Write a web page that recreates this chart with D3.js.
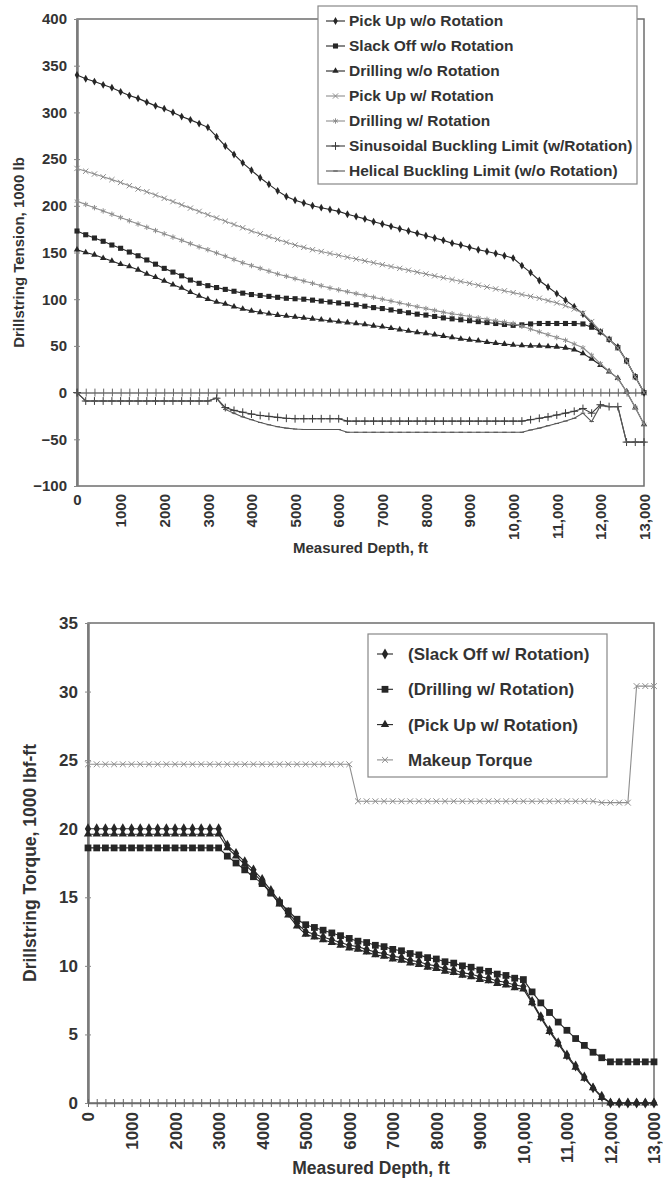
<!DOCTYPE html>
<html>
<head>
<meta charset="utf-8">
<script src="https://cdn.jsdelivr.net/npm/d3@7"></script>
<style>
  body { margin: 0; background: #fff; }
  svg { display: block; font-family: "Liberation Sans", Arial, sans-serif; font-weight: bold; }
  .tick text { fill: #333; }
</style>
</head>
<body>
<div id="chart"></div>
<script>
// measured depth of every data point, ft (category axis)
const depthFt = d3.range(0, 13001, 200);
const depthLabels = d3.range(0, 13001, 1000);

// ---- drillstring tension, 1000 lb ----
const pickUpNoRot = [340, 336, 333, 329.5, 326.5, 322, 318, 315, 311, 307, 304, 300, 295.5, 292, 288, 284,
  274, 264, 255, 246, 238, 230, 223, 216, 210, 206, 203, 200, 198, 196, 194,
  191, 188.5, 186, 183, 180.5, 178, 175.5, 173, 170.5, 168, 165.5, 163, 160, 158, 155.5, 153, 151, 149, 146.5, 144,
  136, 128.5, 120, 113, 106, 99, 92, 84, 74, 65, 57, 49, 34, 17, 0];
const slackOffNoRot = [173, 169, 165.5, 162, 158, 154.5, 150.5, 146.5, 142, 137.5, 133, 129, 125, 120.5, 117, 114.5,
  112.5, 110.5, 108.5, 106.5, 105, 104, 103, 102, 101, 100.5, 100, 99, 98, 97, 96,
  95, 94, 92.5, 91, 90, 88.5, 87, 85.5, 84, 83, 81.5, 80, 79, 78, 77, 76, 75, 74, 73, 72,
  72.5, 73.5, 74, 74, 74, 74, 74, 73.5, 70, 65, 57, 48, 34, 17, 0];
const drillingNoRot = [153, 150, 147.5, 144, 141, 137.5, 135, 131.5, 127, 123.5, 119.5, 115.5, 112, 107.5, 103.5, 100,
  97, 95, 92, 89.5, 87.5, 86, 84.5, 83, 82, 81, 80, 79, 78, 77, 76,
  75, 74, 73, 71.5, 70.5, 69, 67.5, 66, 64.5, 63.5, 62, 60.5, 59, 57.5, 56.5, 55.5, 54, 53, 52, 51,
  50.5, 50, 50, 49.5, 49, 48, 46, 42, 36, 29.5, 22.5, 15.5, 1, -16, -34];
const pickUpRot = [240, 237, 234, 231, 228, 225, 221.5, 218, 215, 211.5, 208, 204.5, 201, 197.5, 194, 190.5,
  187, 183.5, 180, 176.5, 173, 170, 167, 164, 161, 158, 155.5, 153, 151, 149, 147,
  145, 143, 141, 139, 137, 135, 133, 131, 129, 127, 125, 123, 121, 119, 117, 115, 113, 111, 109, 107,
  105, 103, 101, 98.5, 96, 93, 89.5, 85, 76, 66, 57, 48, 34, 17, 0];
const drillingRot = [205, 201.5, 198, 194.5, 191, 187.5, 184, 180.5, 177, 173.5, 170, 166.5, 163, 159.5, 156, 153,
  149.5, 146, 142.5, 139, 136, 133, 130, 127, 124.5, 122, 119.5, 117, 114.5, 112, 110,
  108, 106, 104, 102, 100, 98, 96, 94, 92, 90, 88, 86, 84.5, 83, 81.5, 80, 78.5, 77, 75.5, 74,
  71, 68, 65, 62, 59, 56, 52, 48, 40, 31, 23, 15, 1, -16, -34];
const sinusoidalLimit = [0, -9, -9, -9, -9, -9, -9, -9, -9, -9, -9, -9, -9, -9, -9, -9,
  -6, -16, -19, -21, -23, -24.5, -25.5, -26.5, -27.5, -28, -28, -28, -28, -28, -28,
  -30.5, -30.5, -30.5, -30.5, -30.5, -30.5, -30.5, -30.5, -30.5, -30.5, -30.5, -30.5, -30.5, -30.5, -30.5, -30.5, -30.5, -30.5, -30.5, -30.5,
  -30.5, -29, -27.5, -26, -24, -22, -20, -17, -22, -13, -15, -15, -53, -53, -53];
const helicalLimit = [0, -9, -9, -9, -9, -9, -9, -9, -9, -9, -9, -9, -9, -9, -9, -9,
  -6, -18, -22, -26, -29, -32, -34.5, -36.5, -38, -39, -39.5, -39.5, -39.5, -39.5, -39.5,
  -42.5, -42.5, -42.5, -42.5, -42.5, -42.5, -42.5, -42.5, -42.5, -42.5, -42.5, -42.5, -42.5, -42.5, -42.5, -42.5, -42.5, -42.5, -42.5, -42.5,
  -42.5, -40, -38, -35.5, -33, -30.5, -27.5, -22, -31, -14, -15, -15, -53, -53, -53];

// ---- drillstring torque, 1000 lbf-ft ----
const slackOffRotTq = [20, 20, 20, 20, 20, 20, 20, 20, 20, 20, 20, 20, 20, 20, 20, 20,
  18.8, 18.2, 17.6, 17.0, 16.3, 15.5, 14.7, 13.9, 13.1, 12.5, 12.3, 12.1, 11.9, 11.7, 11.5,
  11.4, 11.2, 11.0, 10.9, 10.7, 10.6, 10.4, 10.3, 10.1, 10.0, 9.8, 9.7, 9.5, 9.4, 9.2, 9.1, 8.9, 8.8, 8.6, 8.5,
  7.4, 6.3, 5.3, 4.4, 3.5, 2.7, 1.9, 1.1, 0.5, 0, 0, 0, 0, 0, 0];
const drillingRotTq = [18.6, 18.6, 18.6, 18.6, 18.6, 18.6, 18.6, 18.6, 18.6, 18.6, 18.6, 18.6, 18.6, 18.6, 18.6, 18.6,
  18.0, 17.5, 17.0, 16.5, 16.0, 15.3, 14.6, 14.0, 13.4, 13.0, 12.8, 12.6, 12.4, 12.2, 12.0,
  11.8, 11.7, 11.5, 11.4, 11.2, 11.1, 10.9, 10.8, 10.6, 10.5, 10.3, 10.2, 10.0, 9.9, 9.7, 9.6, 9.4, 9.3, 9.1, 9.0,
  8.1, 7.3, 6.6, 5.9, 5.3, 4.7, 4.2, 3.7, 3.3, 3.0, 3.0, 3.0, 3.0, 3.0, 3.0];
const pickUpRotTq = [19.6, 19.6, 19.6, 19.6, 19.6, 19.6, 19.6, 19.6, 19.6, 19.6, 19.6, 19.6, 19.6, 19.6, 19.6, 19.6,
  18.6, 18.0, 17.4, 16.8, 16.1, 15.3, 14.5, 13.7, 12.9, 12.3, 12.1, 11.9, 11.7, 11.5, 11.3,
  11.2, 11.0, 10.8, 10.7, 10.5, 10.4, 10.2, 10.1, 9.9, 9.8, 9.6, 9.5, 9.3, 9.2, 9.0, 8.9, 8.7, 8.6, 8.4, 8.3,
  7.3, 6.2, 5.2, 4.3, 3.4, 2.6, 1.8, 1.1, 0.4, 0, 0, 0, 0, 0, 0];
const makeupTorque = [24.7, 24.7, 24.7, 24.7, 24.7, 24.7, 24.7, 24.7, 24.7, 24.7, 24.7, 24.7, 24.7, 24.7, 24.7, 24.7,
  24.7, 24.7, 24.7, 24.7, 24.7, 24.7, 24.7, 24.7, 24.7, 24.7, 24.7, 24.7, 24.7, 24.7, 24.7,
  22, 22, 22, 22, 22, 22, 22, 22, 22, 22, 22, 22, 22, 22, 22, 22, 22, 22, 22, 22,
  22, 22, 22, 22, 22, 22, 22, 22, 21.9, 21.9, 21.9, 21.9, 30.4, 30.4, 30.4];

const tensionTicks = [-100, -50, 0, 50, 100, 150, 200, 250, 300, 350, 400];
const torqueTicks = [0, 5, 10, 15, 20, 25, 30, 35];

const dark = '#262626';
const gray = '#8e8e8e';

// short horizontal dash marker
const symbolDash = {
  draw(context, size) {
    const r = Math.sqrt(size) / 2;
    context.moveTo(-r, 0);
    context.lineTo(r, 0);
  }
};

class DepthChart {

  constructor(_svg, _config, _series) {
    this.svg = _svg;
    this.config = _config;
    this.series = _series;
    this.initVis();
  }

  initVis() {
    let vis = this;
    const c = vis.config;

    vis.x = d3.scaleLinear().domain([0, 13000]).range([c.left, c.right]);
    vis.y = d3.scaleLinear().domain(c.yDomain).range([c.bottom, c.top]);

    vis.g = vis.svg.append('g');

    // plot frame
    vis.g.append('rect')
        .attr('x', c.left)
        .attr('y', c.top)
        .attr('width', c.right - c.left)
        .attr('height', c.bottom - c.top)
        .attr('fill', 'none')
        .attr('stroke', '#6e6e6e')
        .attr('stroke-width', 1.5);

    // y axis
    const yAxis = vis.g.append('g')
        .attr('transform', `translate(${c.left},0)`)
        .call(d3.axisLeft(vis.y).tickValues(c.yTicks).tickSize(0).tickPadding(c.yPad));
    yAxis.select('.domain').attr('stroke', '#7a7a7a').attr('stroke-width', 2.5);
    yAxis.selectAll('.tick line').attr('x1', -3).attr('x2', 3).attr('stroke', '#888');
    yAxis.selectAll('.tick text').style('font-size', c.tickSize + 'px').style('font-weight', 'bold');

    // category axis crossing at zero, tick mark at every point
    const xAxis = vis.g.append('g')
        .attr('transform', `translate(0,${vis.y(0)})`)
        .call(d3.axisBottom(vis.x).tickValues(depthFt).tickFormat('').tickSizeOuter(0));
    xAxis.select('.domain').attr('stroke', '#6e6e6e').attr('stroke-width', 1.5);
    xAxis.selectAll('.tick line').attr('y1', -4).attr('y2', 4).attr('stroke', '#666');

    // depth labels below the plot
    const fmt = d => d >= 10000 ? d3.format(',')(d) : String(d);
    const xLabels = vis.g.append('g')
        .attr('transform', `translate(0,${c.bottom})`)
        .call(d3.axisBottom(vis.x).tickValues(depthLabels).tickSize(0).tickFormat(fmt));
    xLabels.select('.domain').remove();
    xLabels.selectAll('.tick text')
        .style('font-size', c.tickSize + 'px')
        .style('font-weight', 'bold')
        .each(function(d) {
          const t = d3.select(this);
          if (d === 0 && c.zeroUpright) {
            t.attr('transform', null).attr('text-anchor', 'middle')
             .attr('x', 0).attr('y', c.xGap).attr('dy', '0.75em');
          } else {
            t.attr('transform', 'rotate(-90)').attr('text-anchor', 'end')
             .attr('x', -c.xGap).attr('y', 0).attr('dy', '0.35em');
          }
        });

    // axis titles
    vis.g.append('text')
        .attr('x', (c.left + c.right) / 2)
        .attr('y', c.xTitleY)
        .attr('text-anchor', 'middle')
        .attr('dy', '0.35em')
        .attr('fill', '#333')
        .style('font-size', c.titleSize + 'px')
        .text('Measured Depth, ft');

    vis.g.append('text')
        .attr('transform', `translate(${c.yTitleX},${(c.top + c.bottom) / 2}) rotate(-90)`)
        .attr('text-anchor', 'middle')
        .attr('dy', '0.35em')
        .attr('fill', '#333')
        .style('font-size', c.titleSize + 'px')
        .text(c.yTitle);

    vis.renderVis();
  }

  marker(sel, s, size) {
    sel.attr('d', d3.symbol().type(s.symbol).size(size))
        .attr('fill', s.stroked ? 'none' : s.color)
        .attr('stroke', s.stroked ? s.color : 'none')
        .attr('stroke-width', 1);
  }

  renderVis() {
    let vis = this;
    const c = vis.config;

    const line = d3.line()
        .x(d => vis.x(d[0]))
        .y(d => vis.y(d[1]));

    vis.series.forEach(s => {
      const pts = depthFt.map((d, i) => [d, s.values[i]]);
      const sg = vis.g.append('g');
      sg.append('path')
          .attr('d', line(pts))
          .attr('fill', 'none')
          .attr('stroke', s.color)
          .attr('stroke-width', 1.1);
      sg.selectAll('.pt')
          .data(pts)
        .join('path')
          .attr('class', 'pt')
          .attr('transform', d => `translate(${vis.x(d[0])},${vis.y(d[1])})`)
          .call(sel => vis.marker(sel, s, s.size));
    });

    // legend
    const L = c.legend;
    const lg = vis.g.append('g');
    lg.append('rect')
        .attr('x', L.x)
        .attr('y', L.y)
        .attr('width', L.w)
        .attr('height', L.h)
        .attr('fill', '#fff')
        .attr('stroke', '#888')
        .attr('stroke-width', 1.2);

    const rows = lg.selectAll('.legend-row')
        .data(vis.series)
      .join('g')
        .attr('class', 'legend-row')
        .attr('transform', (d, i) => `translate(0,${L.firstY + i * L.step})`);
    rows.append('line')
        .attr('x1', L.lineX1)
        .attr('x2', L.lineX2)
        .attr('stroke', d => d.color)
        .attr('stroke-width', 1.1);
    rows.append('path')
        .attr('transform', `translate(${(L.lineX1 + L.lineX2) / 2},0)`)
        .each(function(d) { vis.marker(d3.select(this), d, d.size); });
    rows.append('text')
        .attr('x', L.textX)
        .attr('dy', '0.35em')
        .attr('fill', '#333')
        .style('font-size', L.fontSize + 'px')
        .text(d => d.name);
  }
}

const svg = d3.select('#chart').append('svg')
    .attr('width', 663)
    .attr('height', 1185);

new DepthChart(svg, {
  left: 77, right: 644, top: 19, bottom: 486,
  yDomain: [-100, 400], yTicks: tensionTicks, yPad: 10,
  tickSize: 15, titleSize: 15, xGap: 8, zeroUpright: true,
  xTitleY: 548, yTitleX: 19, yTitle: 'Drillstring Tension, 1000 lb',
  legend: { x: 318, y: 6, w: 319, h: 178, firstY: 21, step: 25,
            lineX1: 326, lineX2: 345, textX: 349, fontSize: 15.5 }
}, [
  { name: 'Pick Up w/o Rotation', values: pickUpNoRot, color: dark, symbol: d3.symbolDiamond, size: 18 },
  { name: 'Slack Off w/o Rotation', values: slackOffNoRot, color: dark, symbol: d3.symbolSquare, size: 26 },
  { name: 'Drilling w/o Rotation', values: drillingNoRot, color: dark, symbol: d3.symbolTriangle, size: 18 },
  { name: 'Pick Up w/ Rotation', values: pickUpRot, color: gray, symbol: d3.symbolTimes, size: 20, stroked: true },
  { name: 'Drilling w/ Rotation', values: drillingRot, color: gray, symbol: d3.symbolAsterisk, size: 20, stroked: true },
  { name: 'Sinusoidal Buckling Limit (w/Rotation)', values: sinusoidalLimit, color: '#3a3a3a', symbol: d3.symbolPlus, size: 22, stroked: true },
  { name: 'Helical Buckling Limit (w/o Rotation)', values: helicalLimit, color: '#555', symbol: symbolDash, size: 20, stroked: true }
]);

new DepthChart(svg, {
  left: 88, right: 654, top: 623, bottom: 1103,
  yDomain: [0, 35], yTicks: torqueTicks, yPad: 10,
  tickSize: 17, titleSize: 17.5, xGap: 9, zeroUpright: false,
  xTitleY: 1168, yTitleX: 30, yTitle: 'Drillstring Torque, 1000 lbf-ft',
  legend: { x: 368, y: 634, w: 239, h: 143, firstY: 654, step: 35.3,
            lineX1: 377, lineX2: 393, textX: 408, fontSize: 17 }
}, [
  { name: '(Slack Off w/ Rotation)', values: slackOffRotTq, color: dark, symbol: d3.symbolDiamond, size: 34 },
  { name: '(Drilling w/ Rotation)', values: drillingRotTq, color: dark, symbol: d3.symbolSquare, size: 46 },
  { name: '(Pick Up w/ Rotation)', values: pickUpRotTq, color: dark, symbol: d3.symbolTriangle, size: 30 },
  { name: 'Makeup Torque', values: makeupTorque, color: gray, symbol: d3.symbolTimes, size: 24, stroked: true }
]);
</script>
</body>
</html>
